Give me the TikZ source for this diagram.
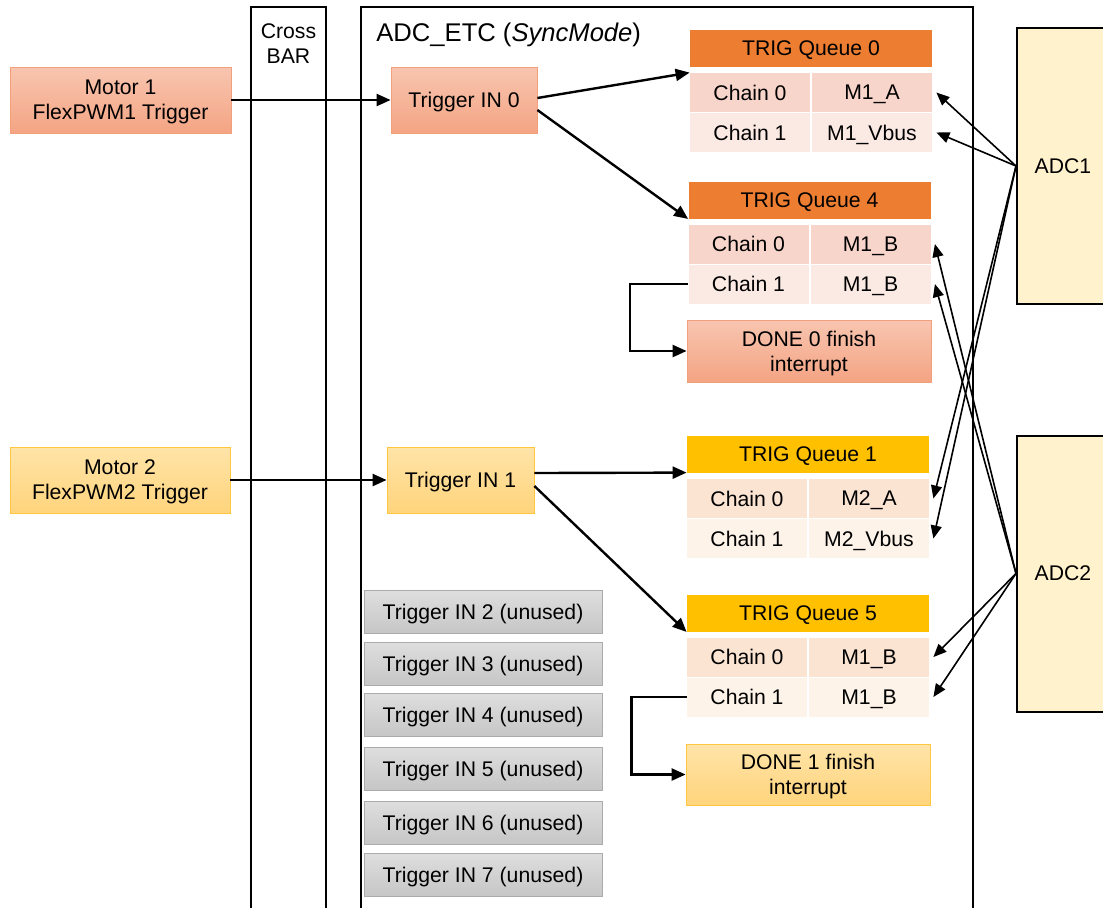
\documentclass[tikz,border=0pt]{standalone}
\usepackage{fontspec}
\setmainfont{Liberation Sans}
\usetikzlibrary{arrows.meta,positioning}

\definecolor{qorange}{HTML}{ED7D31}
\definecolor{qyellow}{HTML}{FFC000}
\definecolor{salmontop}{HTML}{F8C5B0}
\definecolor{salmonbot}{HTML}{F4A483}
\definecolor{salmonline}{HTML}{F2A07C}
\definecolor{yeltop}{HTML}{FFE4A8}
\definecolor{yelbot}{HTML}{FFD47C}
\definecolor{yelline}{HTML}{FFC640}
\definecolor{orow0}{HTML}{F8D5CA}
\definecolor{orow1}{HTML}{FBE9E4}
\definecolor{yrow0}{HTML}{FCE4D3}
\definecolor{yrow1}{HTML}{FEF3E9}
\definecolor{graytop}{HTML}{DEDEDE}
\definecolor{graybot}{HTML}{C6C6C6}
\definecolor{grayline}{HTML}{ABABAB}
\definecolor{adcfill}{HTML}{FFF2CC}

\begin{document}
\begin{tikzpicture}[x=0.5pt,y=-0.5pt,
  every node/.style={font=\fontsize{10.6}{12.5}\selectfont,align=center,
    inner sep=0pt,text depth=0pt},
  arr/.style={line width=1.2pt,-{Triangle[length=7pt,width=6pt]}},
  adcarr/.style={line width=0.8pt,-{Triangle[length=6.5pt,width=5.5pt]}},
  salmonbox/.style={draw=salmonline,top color=salmontop,bottom color=salmonbot},
  yellowbox/.style={draw=yelline,top color=yeltop,bottom color=yelbot},
  unused/.style={draw=grayline,top color=graytop,bottom color=graybot,
    minimum width=119pt,minimum height=21.5pt},
  qhead/.style={minimum width=121pt,minimum height=18.5pt},
  cell/.style={minimum width=60pt,minimum height=19.5pt},
  adc/.style={draw,line width=1pt,fill=adcfill,minimum width=46pt,minimum height=138pt}]

\useasboundingbox (0,0) rectangle (1103,907);
\clip (0,0) rectangle (1103,907);

% frames
\draw[line width=0.8pt] (251,7) rectangle (326,930);
\node (xbar) at (288.5,44) {Cross\\BAR};
\draw[line width=1.4pt] (361,7) rectangle (973,930);
\node[anchor=west,font=\fontsize{12.8}{15}\selectfont] (etc) at (376,32)
  {ADC\_ETC (\textit{SyncMode})};

% sources and triggers
\node[salmonbox,minimum width=110.5pt,minimum height=33pt] (m1) at (120.5,100)
  {Motor 1\\FlexPWM1 Trigger};
\node[yellowbox,minimum width=110pt,minimum height=33pt] (m2) at (120,480)
  {Motor 2\\FlexPWM2 Trigger};
\node[salmonbox,minimum width=73pt,minimum height=33pt] (t0) at (464,100) {Trigger IN 0};
\node[yellowbox,minimum width=73.5pt,minimum height=33pt] (t1) at (460.5,480) {Trigger IN 1};

% queues
\foreach \q/\x/\y/\hc/\ca/\cb/\ma/\mb in {
  0/811/48.5/qorange/orow0/orow1/{M1\_A}/{M1\_Vbus},
  4/809.5/200/qorange/orow0/orow1/{M1\_B}/{M1\_B},
  1/808/454.5/qyellow/yrow0/yrow1/{M2\_A}/{M2\_Vbus},
  5/808/613/qyellow/yrow0/yrow1/{M1\_B}/{M1\_B}}
{
  \node[qhead,fill=\hc] (q\q h) at (\x,\y) {TRIG Queue \q};
  \node[cell,fill=\ca] (q\q c0) at (\x-61,\y+44) {Chain 0};
  \node[cell,fill=\ca] (q\q m0) at (\x+61,\y+44) {\ma};
  \node[cell,fill=\cb] (q\q c1) at (\x-61,\y+84) {Chain 1};
  \node[cell,fill=\cb] (q\q m1) at (\x+61,\y+84) {\mb};
}

\node[salmonbox,minimum width=122pt,minimum height=31pt] (done0) at (809,351)
  {DONE 0 finish\\interrupt};
\node[yellowbox,minimum width=122pt,minimum height=30.5pt] (done1) at (808,774.5)
  {DONE 1 finish\\interrupt};

% unused inputs
\foreach \i/\y in {2/612,3/663.5,4/714.5,5/768.5,6/822.5,7/874.5}
  \node[unused] (u\i) at (483,\y) {Trigger IN \i{} (unused)};

\node[adc] (adc1) at (1063,166) {ADC1};
\node[adc] (adc2) at (1063,573.5) {ADC2};

% connections
\draw[arr] (m1) -- (t0);
\draw[arr] (m2) -- (t1);
\draw[arr] ([yshift=1pt]t0.east) -- (q0c0.north west);
\draw[arr] ([yshift=-5pt]t0.east) -- (q4h.south west);
\draw[arr] ([yshift=3.5pt]t1.east) -- ([yshift=3pt]q1c0.north west);
\draw[arr] ([yshift=-3pt]t1.east) -- (q5h.south west);
\draw[arr] (q4c1.west) -- ++(-58,0) |- (done0.west);
\draw[arr] (q5c1.west) -- ++(-55,0) |- (done1.west);

\foreach \t in {q0m0,q0m1,q1m0,q1m1}
  \draw[adcarr] (adc1.west) -- ([xshift=2pt]\t.east);
\foreach \t in {q4m0,q4m1,q5m0,q5m1}
  \draw[adcarr] (adc2.west) -- ([xshift=2pt]\t.east);
\end{tikzpicture}
\end{document}
